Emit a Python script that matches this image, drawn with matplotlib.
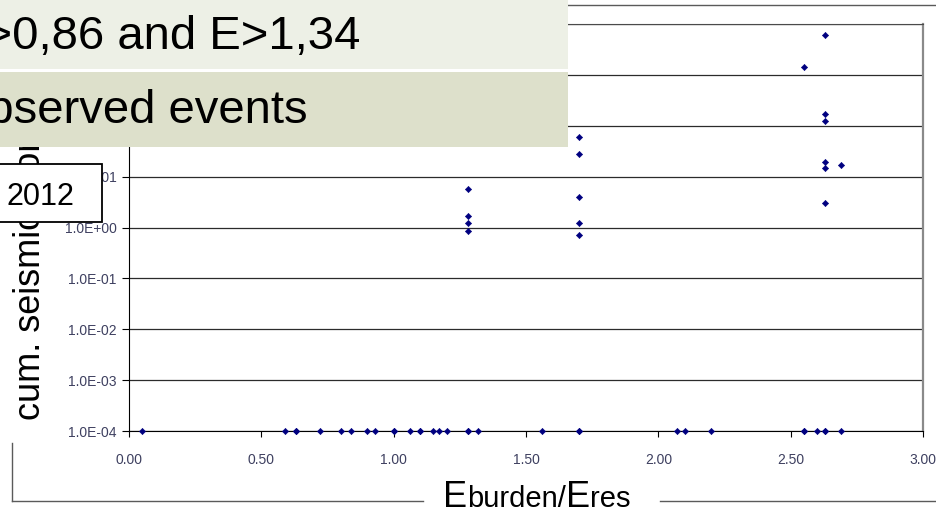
import matplotlib
matplotlib.use("Agg")
import matplotlib.pyplot as plt
from matplotlib.lines import Line2D
from matplotlib.patches import Rectangle
from matplotlib.ticker import FixedLocator, FuncFormatter, NullLocator

plt.rcParams['font.family'] = ['Liberation Sans', 'DejaVu Sans']

# Eburden/Eres ratio per event and the cumulative seismic moment
# (events without seismicity sit on the 1.0E-04 floor)
ratio = [0.05, 0.59, 0.63, 0.63, 0.72, 0.80, 0.84, 0.90, 0.93, 1.00, 1.00,
         1.06, 1.10, 1.10, 1.15, 1.17, 1.20, 1.28, 1.28, 1.32, 1.56, 1.70,
         1.70, 2.07, 2.10, 2.20, 2.55, 2.55, 2.60, 2.63, 2.63, 2.69,
         1.28, 1.28, 1.28, 1.28,
         1.70, 1.70, 1.70, 1.70, 1.70,
         2.55,
         2.63, 2.63, 2.63, 2.63, 2.63, 2.63,
         2.69]
moment = [1e-4, 1e-4, 1e-4, 1e-4, 1e-4, 1e-4, 1e-4, 1e-4, 1e-4, 1e-4, 1e-4,
          1e-4, 1e-4, 1e-4, 1e-4, 1e-4, 1e-4, 1e-4, 1e-4, 1e-4, 1e-4, 1e-4,
          1e-4, 1e-4, 1e-4, 1e-4, 1e-4, 1e-4, 1e-4, 1e-4, 1e-4, 1e-4,
          5.7, 1.7, 1.25, 0.86,
          60.0, 28.0, 3.9, 1.23, 0.71,
          1400.0,
          6200.0, 170.0, 125.0, 19.0, 15.0, 3.0,
          17.0]

x_ticks = [0.0, 0.5, 1.0, 1.5, 2.0, 2.5, 3.0]
y_ticks = [1e-4, 1e-3, 1e-2, 1e-1, 1e0, 1e1, 1e2, 1e3, 1e4]

W, H = 937, 511


def fx(px):
    return px / W


def fy(py):
    return 1 - py / H


fig = plt.figure(figsize=(W / 100, H / 100), dpi=100)
fig.patch.set_facecolor('white')

ax = fig.add_axes([fx(129), fy(431), (923 - 129) / W, (431 - 24) / H])
ax.plot(ratio, moment, linestyle='none', marker='D', ms=3.2, mew=0.4,
        color='#000080', clip_on=False, zorder=3)
ax.set_yscale('log')
ax.set_xlim(0, 3)
ax.set_ylim(1e-4, 1e4)
ax.xaxis.set_major_locator(FixedLocator(x_ticks))
ax.yaxis.set_major_locator(FixedLocator(y_ticks))
ax.yaxis.set_minor_locator(NullLocator())
ax.xaxis.set_major_formatter(FuncFormatter(lambda v, p: f"{v:.2f}"))
ax.yaxis.set_major_formatter(FuncFormatter(lambda v, p: f"{v:.1E}"))
ax.yaxis.grid(True, color='#2b2b2b', lw=0.9)
ax.set_axisbelow(True)

lab_col = '#3e4060'
ax.tick_params(axis='y', length=5, width=0.8, pad=4, labelsize=10,
               labelcolor=lab_col)
ax.tick_params(axis='x', length=4, width=0.8, pad=12, labelsize=10,
               labelcolor=lab_col)
ax.spines['left'].set_color('black')
ax.spines['bottom'].set_color('black')
ax.spines['top'].set_color('#4a4a4a')
ax.spines['right'].set_color('#8a8a8a')
ax.spines['right'].set_linewidth(1.6)

# outer chart frame (partly hidden by the axis title)
frame_col = '#5a5a5a'
for xs, ys in [([12, 12], [443, 501]), ([12, 423], [501, 501]),
               ([660, 937], [501, 501]), ([560, 937], [5, 5])]:
    fig.add_artist(Line2D([fx(v) for v in xs], [fy(v) for v in ys],
                          color=frame_col, lw=1.0, zorder=2))

# y axis title, partly covered by the overlay boxes
fig.text(fx(40), fy(420), "cum. seismic moment", rotation=90,
         rotation_mode='anchor', ha='left', va='baseline', fontsize=26,
         zorder=2)

# x axis title: Eburden/Eres with large E
renderer = fig.canvas.get_renderer()
x_pos = 443
for part, size in [("E", 26), ("burden/", 21), ("E", 26), ("res", 21)]:
    t = fig.text(fx(x_pos), fy(507), part, fontsize=size, ha='left',
                 va='baseline', zorder=4)
    x_pos = t.get_window_extent(renderer).x1

# slide overlay boxes (white band between them)
fig.add_artist(Rectangle((fx(-5), fy(147)), fx(568 + 5), 147 / H,
                         transform=fig.transFigure, fc='white', ec='none',
                         zorder=5))
fig.add_artist(Rectangle((fx(-5), fy(69)), fx(568 + 5), 69 / H,
                         transform=fig.transFigure, fc='#edf0e6', ec='none',
                         zorder=6))
fig.add_artist(Rectangle((fx(-5), fy(147)), fx(568 + 5), (147 - 72) / H,
                         transform=fig.transFigure, fc='#dde0cb', ec='none',
                         zorder=6))
fig.text(fx(360), fy(49), "E>0,86 and E>1,34", ha='right', va='baseline',
         fontsize=34, zorder=7)
fig.text(fx(308), fy(123), "observed events", ha='right', va='baseline',
         fontsize=34, zorder=7)

fig.add_artist(Rectangle((fx(-5), fy(222)), fx(102 + 5), (222 - 164) / H,
                         transform=fig.transFigure, fc='white', ec='black',
                         lw=1.3, zorder=6))
fig.text(fx(7), fy(205), "2012", ha='left', va='baseline', fontsize=22,
         zorder=7)

fig.savefig('out.png', dpi=100)
